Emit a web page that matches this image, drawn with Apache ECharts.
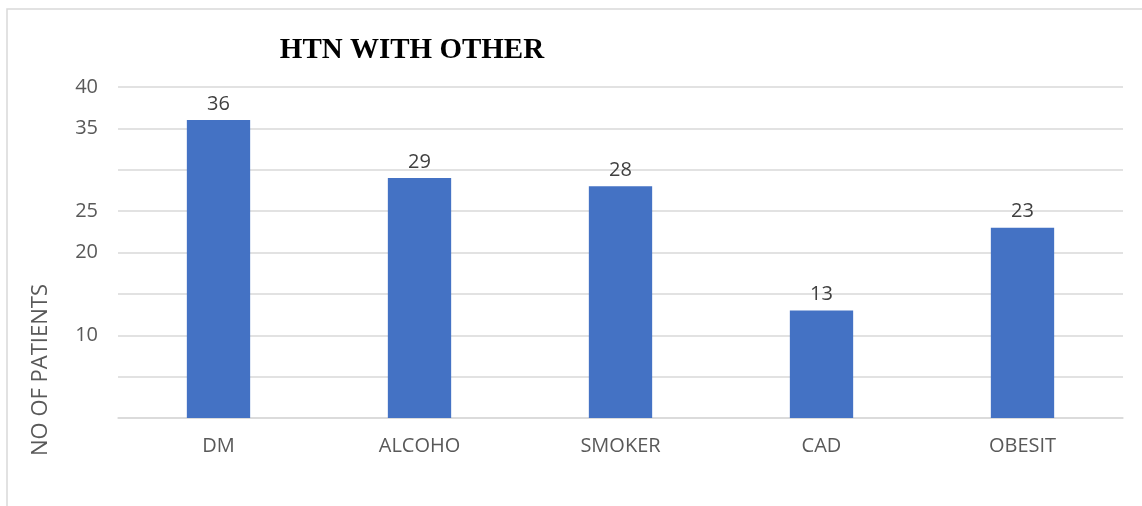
<!DOCTYPE html>
<html>
<head>
<meta charset="utf-8">
<script src="https://cdn.jsdelivr.net/npm/echarts@6/dist/echarts.min.js"></script>
<style>
  html, body { margin: 0; padding: 0; background: #fff; }
  #chart { width: 1142px; height: 506px; }
</style>
</head>
<body>
<div id="chart"></div>
<script>
// Risk factors seen together with hypertension
const categories = ['DM', 'ALCOHO', 'SMOKER', 'CAD', 'OBESIT'];
const patients = [36, 29, 28, 13, 23];
// Only these tick values carry a printed label
const shownTicks = [40, 35, 25, 20, 10];

const textGray = '#595959';
const chart = echarts.init(document.getElementById('chart'));

chart.setOption({
  animation: false,
  backgroundColor: '#ffffff',
  textStyle: { fontFamily: 'Open Sans' },
  graphic: [
    {
      type: 'rect',
      shape: { x: 7, y: 9, width: 1160, height: 520 },
      style: { fill: 'none', stroke: '#d9d9d9', lineWidth: 1.5 },
      silent: true
    },
    {
      type: 'text',
      x: 412, y: 51,
      style: {
        text: 'HTN WITH OTHER',
        fontFamily: 'Liberation Serif',
        fontWeight: 'bold',
        fontSize: 29,
        fill: '#000000',
        textAlign: 'center',
        textVerticalAlign: 'middle'
      }
    },
    {
      type: 'text',
      x: 41, y: 370,
      rotation: Math.PI / 2,
      style: {
        text: 'NO OF PATIENTS',
        fontFamily: 'Open Sans',
        fontSize: 22,
        fill: textGray,
        textAlign: 'center',
        textVerticalAlign: 'middle'
      }
    }
  ],
  grid: { left: 118, right: 19, top: 87, bottom: 88, containLabel: false },
  xAxis: {
    type: 'category',
    data: categories,
    axisLine: { show: true, lineStyle: { color: '#d9d9d9', width: 1.5 } },
    axisTick: { show: false },
    axisLabel: { color: textGray, fontSize: 20, margin: 18 }
  },
  yAxis: {
    type: 'value',
    min: 0, max: 40, interval: 5,
    axisLine: { show: false },
    axisTick: { show: false },
    splitLine: { lineStyle: { color: '#d9d9d9', width: 1.5 } },
    axisLabel: {
      color: textGray, fontSize: 20, margin: 20,
      formatter: v => shownTicks.includes(v) ? String(v) : ''
    }
  },
  series: [{
    type: 'bar',
    data: patients,
    barWidth: '31.5%',
    itemStyle: { color: '#4472C4' },
    label: {
      show: true, position: 'top', distance: 6,
      color: '#404040', fontSize: 20
    }
  }]
});
</script>
</body>
</html>
